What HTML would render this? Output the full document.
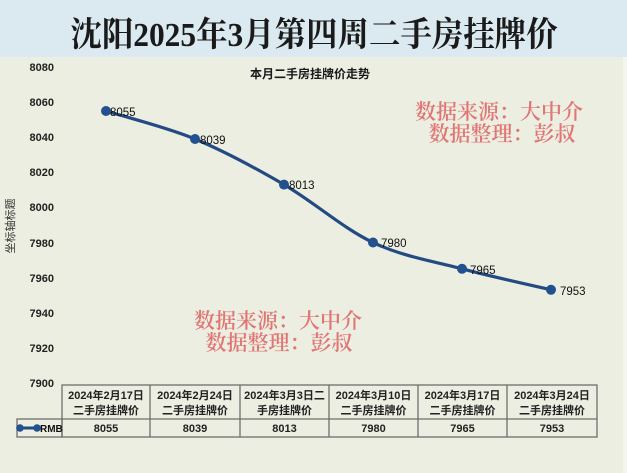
<!DOCTYPE html>
<html>
<head>
<meta charset="utf-8">
<style>
html,body{margin:0;padding:0;}
body{width:627px;height:473px;overflow:hidden;background:#eceee1;}
svg{display:block;}
</style>
</head>
<body>
<svg width="627" height="473" viewBox="0 0 627 473" xmlns="http://www.w3.org/2000/svg">
  <!-- backgrounds -->
  <rect x="0" y="0" width="627" height="473" fill="#eceee1"/>
  <rect x="0" y="0" width="627" height="57" fill="#dbe9f0"/>
  <rect x="623" y="57" width="4" height="416" fill="#f3f5ee"/>

  <!-- main title -->
  <text transform="translate(314,46) scale(0.925,1)" x="0" y="0" text-anchor="middle" font-family="'Liberation Serif','Noto Serif CJK SC',serif" font-size="34" font-weight="bold" fill="#1a1a1a">沈阳2025年3月第四周二手房挂牌价</text>

  <!-- chart title -->
  <text x="310" y="78" text-anchor="middle" font-family="'Liberation Sans','Noto Sans CJK SC',sans-serif" font-size="12" font-weight="bold" fill="#1a1a1a">本月二手房挂牌价走势</text>

  <!-- y axis labels -->
  <g font-family="'Liberation Sans',sans-serif" font-size="11" font-weight="bold" fill="#222" text-anchor="end">
    <text x="54" y="71">8080</text>
    <text x="54" y="106">8060</text>
    <text x="54" y="141">8040</text>
    <text x="54" y="176">8020</text>
    <text x="54" y="211">8000</text>
    <text x="54" y="247">7980</text>
    <text x="54" y="282">7960</text>
    <text x="54" y="317">7940</text>
    <text x="54" y="352">7920</text>
    <text x="54" y="387">7900</text>
  </g>

  <!-- axis title -->
  <text transform="translate(14,226) rotate(-90)" text-anchor="middle" font-family="'Liberation Sans','Noto Sans CJK SC',sans-serif" font-size="11" fill="#333">坐标轴标题</text>

  <!-- watermarks -->
  <g font-family="'Liberation Serif','Noto Serif CJK SC',serif" font-size="21" font-weight="600" fill="#e07573" text-anchor="middle">
    <text x="499" y="119">数据来源：大中介</text>
    <text x="502" y="141">数据整理：彭叔</text>
    <text x="278" y="328">数据来源：大中介</text>
    <text x="279" y="350">数据整理：彭叔</text>
  </g>

  <!-- series line -->
  <path d="M106,111 C120.8,115.7 165.3,126.7 195,139 C224.7,151.3 254.3,167.35 284,184.6 C313.7,201.85 343.3,228.47 373,242.5 C402.7,256.53 432.3,260.92 462,268.8 C491.7,276.68 536.2,286.3 551,289.8" fill="none" stroke="#234a82" stroke-width="3.2" stroke-linecap="round"/>
  <g fill="#23508e">
    <circle cx="106" cy="111" r="5"/>
    <circle cx="195" cy="139" r="5"/>
    <circle cx="284" cy="184.6" r="5"/>
    <circle cx="373" cy="242.5" r="5"/>
    <circle cx="462" cy="268.8" r="5"/>
    <circle cx="551" cy="289.8" r="5"/>
  </g>
  <g font-family="'Liberation Sans',sans-serif" font-size="11.5" fill="#111">
    <text x="110" y="116">8055</text>
    <text x="200" y="144">8039</text>
    <text x="289" y="189">8013</text>
    <text x="381" y="247">7980</text>
    <text x="470" y="274">7965</text>
    <text x="560" y="295">7953</text>
  </g>

  <!-- data table -->
  <g fill="none" stroke="#6e6e6e" stroke-width="1.3">
    <rect x="62" y="385" width="535" height="52"/>
    <rect x="17" y="419" width="45" height="18"/>
    <line x1="62" y1="419" x2="597" y2="419"/>
    <line x1="150" y1="385" x2="150" y2="437"/>
    <line x1="240" y1="385" x2="240" y2="437"/>
    <line x1="329" y1="385" x2="329" y2="437"/>
    <line x1="418" y1="385" x2="418" y2="437"/>
    <line x1="507" y1="385" x2="507" y2="437"/>
  </g>
  <!-- legend key -->
  <line x1="20" y1="428" x2="37" y2="428" stroke="#234a82" stroke-width="3"/>
  <circle cx="20" cy="428" r="3.8" fill="#23508e"/>
  <circle cx="37" cy="428" r="3.8" fill="#23508e"/>
  <text x="40" y="432" font-family="'Liberation Sans',sans-serif" font-size="10" font-weight="bold" fill="#111">RMB</text>

  <g font-family="'Liberation Sans','Noto Sans CJK SC',sans-serif" font-size="11" font-weight="bold" fill="#222" text-anchor="middle">
    <text x="106" y="399">2024年2月17日</text>
    <text x="106" y="414">二手房挂牌价</text>
    <text x="195" y="399">2024年2月24日</text>
    <text x="195" y="414">二手房挂牌价</text>
    <text x="284.5" y="399">2024年3月3日二</text>
    <text x="284.5" y="414">手房挂牌价</text>
    <text x="373.5" y="399">2024年3月10日</text>
    <text x="373.5" y="414">二手房挂牌价</text>
    <text x="462.5" y="399">2024年3月17日</text>
    <text x="462.5" y="414">二手房挂牌价</text>
    <text x="552" y="399">2024年3月24日</text>
    <text x="552" y="414">二手房挂牌价</text>
  </g>
  <g font-family="'Liberation Sans',sans-serif" font-size="11" font-weight="bold" fill="#222" text-anchor="middle">
    <text x="106" y="432">8055</text>
    <text x="195" y="432">8039</text>
    <text x="284.5" y="432">8013</text>
    <text x="373.5" y="432">7980</text>
    <text x="462.5" y="432">7965</text>
    <text x="552" y="432">7953</text>
  </g>
</svg>
</body>
</html>
